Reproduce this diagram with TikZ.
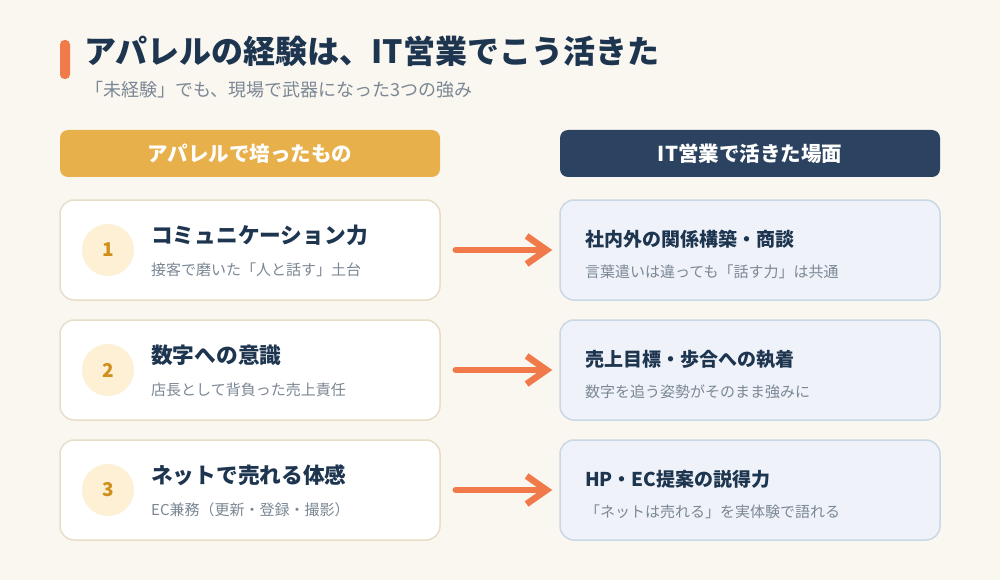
\documentclass[tikz,border=0pt]{standalone}
\usepackage{fontspec}
\setmainfont{Noto Sans CJK JP}
\usetikzlibrary{positioning,arrows.meta}

\definecolor{bgcream}{HTML}{FAF7F0}
\definecolor{accent}{HTML}{F07A4A}
\definecolor{navy}{HTML}{1E3550}
\definecolor{slate}{HTML}{7B8794}
\definecolor{gold}{HTML}{E8B04B}
\definecolor{hdrnavy}{HTML}{2B4360}
\definecolor{cardedge}{HTML}{E8DDC8}
\definecolor{numfill}{HTML}{FDF0D5}
\definecolor{numtext}{HTML}{D08E1A}
\definecolor{rcardfill}{HTML}{EFF3F9}
\definecolor{rcardedge}{HTML}{CAD7E5}

\begin{document}
\begin{tikzpicture}[x=1pt, y=-1pt,
  hdr/.style={rounded corners=8pt, minimum width=380pt, minimum height=47pt,
              text=white, font=\fontsize{20.5}{24}\selectfont\bfseries},
  lcard/.style={draw=cardedge, line width=1.5pt, fill=white, rounded corners=14pt,
                minimum width=380pt, minimum height=100pt},
  rcard/.style={lcard, draw=rcardedge, fill=rcardfill},
  num/.style={circle, fill=numfill, minimum size=52pt, text=numtext,
              font=\fontsize{19}{21}\selectfont\bfseries},
  ttl/.style={anchor=west, inner sep=0pt, text=navy, font=\fontsize{21.7}{25}\selectfont\bfseries},
  rttl/.style={ttl, font=\fontsize{19}{22}\selectfont\bfseries},
  sub/.style={anchor=west, inner sep=0pt, text=slate, font=\fontsize{15}{18}\selectfont},
  arr/.style={-{Straight Barb[length=20pt, width=28pt]}, line width=6.5pt, draw=accent,
              line cap=round, shorten <=15pt, shorten >=7pt}
]
\useasboundingbox[fill=bgcream] (0,0) rectangle (1000,580);

% heading
\node[fill=accent, rounded corners=4.5pt, minimum width=10pt, minimum height=39pt, inner sep=0pt] (bar) at (65,59.5) {};
\node[anchor=west, inner sep=0pt, text=navy, font=\fontsize{32}{36}\selectfont\bfseries] (title) at (84,51)
  {アパレルの経験は、IT営業でこう活きた};
\node[anchor=west, inner sep=0pt, text=slate, font=\fontsize{18}{21}\selectfont] (subtitle) at (85,90)
  {「未経験」でも、現場で武器になった3つの強み};

% column headers
\node[hdr, fill=gold] (lhdr) at (250,153.5) {アパレルで培ったもの};
\node[hdr, fill=hdrnavy] (rhdr) at (750,153.5) {IT営業で活きた場面};

% left column
\node[lcard] (lc1) at (250,250) {};
\node[lcard] (lc2) at (250,370) {};
\node[lcard] (lc3) at (250,490) {};
\node[num] (n1) at (108,250) {1};
\node[num] (n2) at (108,370) {2};
\node[num] (n3) at (108,490) {3};
\node[ttl] (lt1) at (151,235) {コミュニケーション力};
\node[sub] (ls1) at (151,270) {接客で磨いた「人と話す」土台};
\node[ttl] (lt2) at (151,355) {数字への意識};
\node[sub] (ls2) at (151,390) {店長として背負った売上責任};
\node[ttl] (lt3) at (151,475) {ネットで売れる体感};
\node[sub] (ls3) at (151,510) {EC兼務（更新・登録・撮影）};

% right column
\node[rcard] (rc1) at (750,250) {};
\node[rcard] (rc2) at (750,370) {};
\node[rcard] (rc3) at (750,490) {};
\node[rttl] (rt1) at (585,239) {社内外の関係構築・商談};
\node[sub] (rs1) at (585,272) {言葉遣いは違っても「話す力」は共通};
\node[rttl] (rt2) at (585,359) {売上目標・歩合への執着};
\node[sub] (rs2) at (585,392) {数字を追う姿勢がそのまま強みに};
\node[rttl] (rt3) at (585,479) {HP・EC提案の説得力};
\node[sub] (rs3) at (585,512) {「ネットは売れる」を実体験で語れる};

\draw[arr] (lc1) -- (rc1);
\draw[arr] (lc2) -- (rc2);
\draw[arr] (lc3) -- (rc3);
\end{tikzpicture}
\end{document}
